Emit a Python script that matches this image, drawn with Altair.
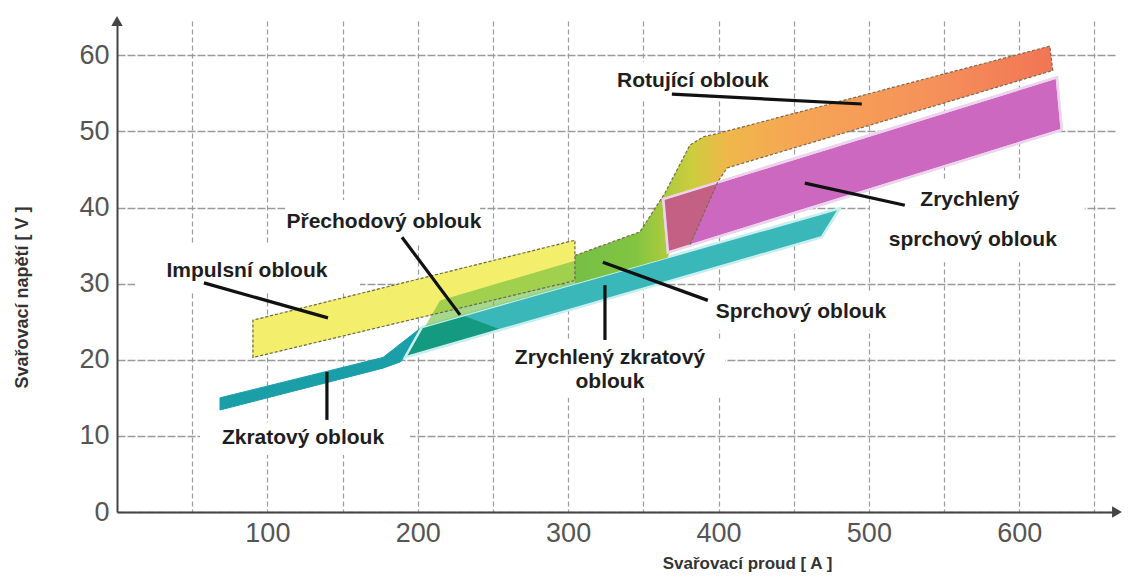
import altair as alt
import pandas as pd

# ---------------- data (current A, voltage V) ----------------
zkrat_A = [68.5, 68.5, 176.9, 202.8, 191.5, 188.2, 176.9]
zkrat_V = [13.4, 15.0, 20.3, 24.3, 20.3, 19.7, 18.9]

zrz_A = [191.5, 202.8, 480.7, 468.7]
zrz_V = [20.3, 24.3, 39.9, 36.1]

wedge_A = [191.5, 202.8, 229.4, 255.0]
wedge_V = [20.3, 24.3, 25.8, 23.9]

imp_A = [90.4, 90.4, 304.5, 304.5]
imp_V = [20.3, 25.2, 35.7, 30.4]

prech_A = [205.0, 214.8, 301.2, 304.5, 304.5]
prech_V = [24.4, 27.8, 32.8, 33.0, 30.0]

rot_A = [304.5, 347.7, 364.4, 381.0, 390.0, 399.0, 620.3, 622.3, 405.7, 399.6, 381.0, 367.7, 366.0, 304.5]
rot_V = [33.7, 36.8, 41.9, 48.2, 49.3, 49.7, 61.2, 58.0, 45.2, 43.4, 35.1, 34.1, 33.4, 30.0]

mag_A = [363.3, 625.0, 628.3, 366.4]
mag_V = [41.1, 57.1, 50.2, 34.1]

ovl_A = [363.3, 399.6, 381.0, 366.4]
ovl_V = [41.1, 43.4, 35.1, 34.1]

rot_out_A = [304.5, 347.7, 364.4, 381.0, 390.0, 399.0, 620.3, 622.3, 405.7, 399.6, 381.0]
rot_out_V = [33.7, 36.8, 41.9, 48.2, 49.3, 49.7, 61.2, 58.0, 45.2, 43.4, 35.1]

labels = ["Rotující oblouk", "Přechodový oblouk", "Impulsní oblouk", "Zkratový oblouk",
          "Zrychlený  zkratový", "oblouk", "Sprchový oblouk", "Zrychlený", "sprchový oblouk"]
label_A = [383.0, 177.5, 86.4, 123.7, 327.8, 327.8, 454.8, 567.2, 569.1]
label_V = [56.6, 38.1, 31.6, 9.7, 20.2, 17.1, 26.3, 41.0, 35.7]

box_A1 = [324.5, 111.7, 12.0, 55.2, 251.3, 387.6, 500.7]
box_A2 = [444.1, 241.4, 161.6, 194.8, 404.3, 520.6, 643.6]
box_V1 = [54.1, 35.1, 28.9, 7.5, 15.0, 23.9, 32.8]
box_V2 = [59.1, 41.0, 35.1, 11.8, 22.6, 28.9, 43.6]

ptr_A1 = [369.0, 189.5, 57.8, 139.6, 324.5, 323.1, 457.4]
ptr_V1 = [54.9, 36.1, 30.1, 18.4, 29.8, 32.8, 43.2]
ptr_A2 = [495.3, 228.1, 140.3, 139.6, 324.5, 392.9, 523.9]
ptr_V2 = [53.6, 25.9, 25.5, 12.1, 22.6, 27.8, 40.3]

x_ticks = list(range(50, 651, 50))
y_ticks = list(range(0, 61, 10))
X_MAX = 665
Y_MAX = 64.5

# ---------------- scales / axes ----------------
FONT = "Liberation Sans"
xs = alt.Scale(domain=[0, X_MAX], nice=False, zero=False)
ys = alt.Scale(domain=[0, Y_MAX], nice=False, zero=False)
xaxis = alt.Axis(values=x_ticks, labelExpr="datum.value % 100 == 0 ? datum.label : ''",
                 grid=True, gridColor="#9c9c9c", gridDash=[5, 3], gridWidth=1.2,
                 ticks=False, domainColor="#444444", domainWidth=2,
                 labelFont=FONT, labelFontSize=27, labelColor="#555555", labelPadding=8,
                 title="Svařovací proud [ A ]", titleFont=FONT, titleFontSize=17,
                 titleFontWeight="bold", titleColor="#333333",
                 titleX=630, titleY=43, titleBaseline="top", titleAlign="center")
yaxis = alt.Axis(values=y_ticks, grid=True, gridColor="#9a9a9a", gridDash=[8, 2], gridWidth=1.3,
                 ticks=False, domainColor="#444444", domainWidth=2,
                 labelFont=FONT, labelFontSize=27, labelColor="#555555", labelPadding=8,
                 title="Svařovací napětí [ V ]", titleFont=FONT, titleFontSize=18,
                 titleFontWeight="bold", titleColor="#333333",
                 titleX=-95, titleY=276, titleAngle=270, titleAlign="center",
                 titleBaseline="middle")


def X(f):
    return alt.X(f, type="quantitative", scale=xs, axis=xaxis, title="Svařovací proud [ A ]")


def Y(f):
    return alt.Y(f, type="quantitative", scale=ys, axis=yaxis, title="Svařovací napětí [ V ]")


def poly_df(a, v):
    return pd.DataFrame({"A": a, "V": v, "i": list(range(len(a)))})


def poly(a, v, closed=True, **kw):
    return alt.Chart(poly_df(a, v)).mark_line(
        interpolate="linear-closed" if closed else "linear", **kw
    ).encode(x=X("A"), y=Y("V"), order="i:Q")


boxes = alt.Chart(pd.DataFrame({"a1": box_A1, "a2": box_A2, "v1": box_V1, "v2": box_V2})).mark_rect(
    color="white").encode(x=X("a1"), x2="a2", y=Y("v1"), y2="v2")

grad = alt.LinearGradient(
    gradient="linear", x1=0, x2=1, y1=0, y2=0,
    stops=[alt.GradientStop(color="#76bf45", offset=0),
           alt.GradientStop(color="#82c442", offset=0.127),
           alt.GradientStop(color="#a6ca3e", offset=0.18),
           alt.GradientStop(color="#cccd3e", offset=0.245),
           alt.GradientStop(color="#efb84a", offset=0.316),
           alt.GradientStop(color="#f6a654", offset=0.458),
           alt.GradientStop(color="#f5925a", offset=0.74),
           alt.GradientStop(color="#f27555", offset=1)])

layers = [
    boxes,
    poly(zkrat_A, zkrat_V, fill="#1a9fa8", stroke="#1a9fa8", strokeWidth=1),
    poly(zrz_A, zrz_V, fill="#39b7b9", stroke="#39b7b9", strokeWidth=1),
    poly(wedge_A, wedge_V, fill="#159a82", stroke="#159a82", strokeWidth=1),
    poly(zrz_A, zrz_V, fill="transparent", stroke="#c8efee", strokeWidth=2.5),
    poly(imp_A, imp_V, fill="#f3ee6c", stroke="#f3ee6c", strokeWidth=1),
    poly(prech_A, prech_V, fill="#6bbd3c", fillOpacity=0.6, stroke="#6bbd3c", strokeOpacity=0.0),
    poly(rot_A, rot_V, fill=grad, stroke="#f0c060", strokeOpacity=0.0),
    poly(mag_A, mag_V, fill="#cc68c0", stroke="#ecd4ec", strokeWidth=2.5),
    poly(ovl_A, ovl_V, fill="#c35f7d", stroke="#c35f7d", strokeWidth=0.5, fillOpacity=0.9),
    poly(mag_A, mag_V, fill="transparent", stroke="#ecd4ec", strokeWidth=2.5),
    poly(imp_A, imp_V, fill="transparent", stroke="#666666", strokeWidth=1.2, strokeDash=[3, 2]),
    poly(rot_out_A, rot_out_V, closed=False, stroke="#7a6a50", strokeWidth=1.2, strokeDash=[3, 2]),
]

ptr = alt.Chart(pd.DataFrame({"a1": ptr_A1, "a2": ptr_A2, "v1": ptr_V1, "v2": ptr_V2})).mark_rule(
    color="#111111", strokeWidth=3.2).encode(x=X("a1"), x2="a2", y=Y("v1"), y2="v2")

txt = alt.Chart(pd.DataFrame({"t": labels, "a": label_A, "v": label_V})).mark_text(
    font=FONT, fontSize=21, fontWeight="bold", color="#1e1e1e", align="center", baseline="middle"
).encode(x=X("a"), y=Y("v"), text="t:N")

arrows = alt.Chart(pd.DataFrame({"a": [0, X_MAX], "v": [Y_MAX, 0], "s": ["up", "right"]})).mark_point(
    filled=True, size=130, color="#444444", opacity=1
).encode(x=X("a"), y=Y("v"),
         shape=alt.Shape("s:N", scale=alt.Scale(domain=["up", "right"],
                                                range=["triangle-up", "triangle-right"]), legend=None))

chart = alt.layer(*layers, ptr, txt, arrows).properties(
    width=1000, height=491,
    padding={"left": 109, "top": 13, "right": 6, "bottom": 61},
    autosize=alt.AutoSizeParams(type="none"),
    background="white",
).configure_view(stroke=None)

chart.save("out.html", embed_options={"renderer": "svg", "actions": False})
